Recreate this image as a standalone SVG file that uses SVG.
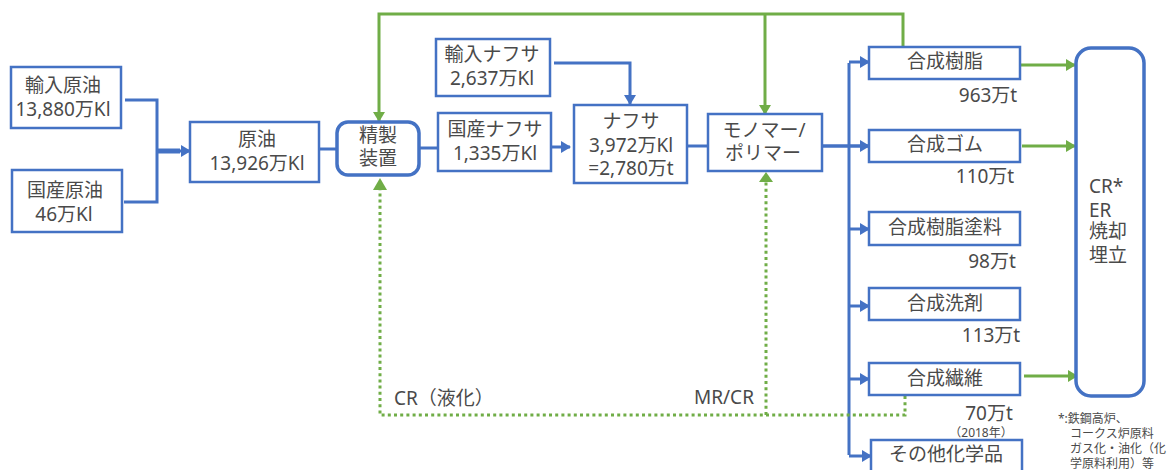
<svg xmlns="http://www.w3.org/2000/svg" width="1176" height="470" viewBox="0 0 1176 470">
<style>
text{font-family:"Noto Sans","Noto Sans CJK JP",sans-serif;fill:#4a4a4a;font-size:19px;text-anchor:middle}
.l{text-anchor:start}
.b{fill:#fff;stroke:#4472c4;stroke-width:2.5}
.r{fill:#fff;stroke:#4472c4;stroke-width:3.5}
.c{fill:none;stroke:#4472c4;stroke-width:3}
.g{fill:none;stroke:#70ad47;stroke-width:3}
.d{fill:none;stroke:#70ad47;stroke-width:3;stroke-dasharray:3 3.2}
.n{font-size:12px}
</style>
<defs>
<marker id="ab" markerUnits="userSpaceOnUse" markerWidth="10" markerHeight="12" refX="9" refY="6" orient="auto"><path d="M0 0L10 6L0 12Z" fill="#4472c4"/></marker>
<marker id="ag" markerUnits="userSpaceOnUse" markerWidth="10" markerHeight="12" refX="9" refY="6" orient="auto"><path d="M0 0L10 6L0 12Z" fill="#70ad47"/></marker>
</defs>
<g id="connectors">
<path class="c" d="M125 100H157V202H124"/>
<path class="c" style="stroke-width:5" d="M157 151H180"/>
<path class="c" d="M176 151H190" marker-end="url(#ab)"/>
<path class="c" d="M320 149H337"/>
<path class="c" d="M419 148H438"/>
<path class="c" d="M552 147H570" marker-end="url(#ab)"/>
<path class="c" d="M554 63H630V104" marker-end="url(#ab)"/>
<path class="c" d="M688 146H708"/>
<path class="c" style="stroke-width:3.5" d="M823 146H869" marker-end="url(#ab)"/>
<path class="c" d="M849 63V455"/>
<path class="c" d="M849 62H869" marker-end="url(#ab)"/>
<path class="c" d="M849 229H869" marker-end="url(#ab)"/>
<path class="c" d="M849 306H869" marker-end="url(#ab)"/>
<path class="c" d="M849 379H869" marker-end="url(#ab)"/>
<path class="c" d="M849 456H871" marker-end="url(#ab)"/>
<path class="g" d="M903 47V14H379V121" marker-end="url(#ag)"/>
<path class="g" d="M765 14V114" marker-end="url(#ag)"/>
<path class="g" d="M1021 65H1075" marker-end="url(#ag)"/>
<path class="g" d="M1022 146H1075" marker-end="url(#ag)"/>
<path class="g" d="M1024 376H1077" marker-end="url(#ag)"/>
<path class="d" d="M905 396V415H380V190"/>
<path class="d" d="M766 415V182"/>
<path d="M380 178L387 190H373Z" fill="#70ad47"/>
<path d="M766 172L773 182H759Z" fill="#70ad47"/>
</g>
<g id="n-import-crude"><rect class="b" x="11" y="67" width="110" height="61"/><text><tspan x="63" y="92">輸入原油</tspan><tspan x="63" y="116">13,880万Kl</tspan></text></g>
<g id="n-domestic-crude"><rect class="b" x="12" y="170" width="110" height="62"/><text><tspan x="65" y="197">国産原油</tspan><tspan x="64" y="221">46万Kl</tspan></text></g>
<g id="n-crude"><rect class="b" x="190" y="122" width="129" height="60"/><text><tspan x="257" y="146">原油</tspan><tspan x="257" y="170">13,926万Kl</tspan></text></g>
<g id="n-refinery"><rect class="r" x="337" y="122" width="82" height="53" rx="11"/><text><tspan x="378" y="142">精製</tspan><tspan x="378" y="165">装置</tspan></text></g>
<g id="n-import-naphtha"><rect class="b" x="436" y="39" width="114" height="57"/><text><tspan x="492" y="61">輸入ナフサ</tspan><tspan x="492" y="85">2,637万Kl</tspan></text></g>
<g id="n-domestic-naphtha"><rect class="b" x="438" y="113" width="113" height="58"/><text><tspan x="495" y="136">国産ナフサ</tspan><tspan x="495" y="160">1,335万Kl</tspan></text></g>
<g id="n-naphtha"><rect class="b" x="574" y="105" width="113" height="78"/><text><tspan x="631" y="128">ナフサ</tspan><tspan x="631" y="152">3,972万Kl</tspan><tspan x="631" y="175">=2,780万t</tspan></text></g>
<g id="n-monomer"><rect class="b" x="708" y="114" width="114" height="57"/><text><tspan x="764" y="137">モノマー/</tspan><tspan x="763" y="160">ポリマー</tspan></text></g>
<g id="n-resin"><rect class="b" x="869" y="47" width="151" height="32"/><text x="945" y="68">合成樹脂</text><text x="988" y="102">963万t</text></g>
<g id="n-rubber"><rect class="b" x="869" y="130" width="151" height="32"/><text x="945" y="151">合成ゴム</text><text x="985" y="183">110万t</text></g>
<g id="n-paint"><rect class="b" x="869" y="212" width="151" height="33"/><text x="945" y="234">合成樹脂塗料</text><text x="992" y="268">98万t</text></g>
<g id="n-detergent"><rect class="b" x="869" y="288" width="151" height="32"/><text x="945" y="310">合成洗剤</text><text x="991" y="342">113万t</text></g>
<g id="n-fiber"><rect class="b" x="869" y="363" width="151" height="32"/><text x="945" y="385">合成繊維</text><text x="989" y="420">70万t</text><text x="981" y="437" style="font-size:12px">（2018年）</text></g>
<g id="n-other"><rect class="b" x="871" y="440" width="151" height="34"/><text x="946" y="461">その他化学品</text></g>
<g id="n-disposal"><rect class="r" x="1076" y="48" width="68" height="348" rx="15"/><text class="l"><tspan x="1089" y="193">CR*</tspan><tspan x="1089" y="217">ER</tspan><tspan x="1089" y="238">焼却</tspan><tspan x="1089" y="262">埋立</tspan></text></g>
<text class="l" x="394" y="405">CR（液化）</text>
<text class="l" x="694" y="404">MR/CR</text>
<text class="l n"><tspan x="1058" y="423">*:鉄鋼高炉、</tspan><tspan x="1070" y="438">コークス炉原料</tspan><tspan x="1070" y="453">ガス化・油化（化</tspan><tspan x="1070" y="468">学原料利用）等</tspan></text>
</svg>
